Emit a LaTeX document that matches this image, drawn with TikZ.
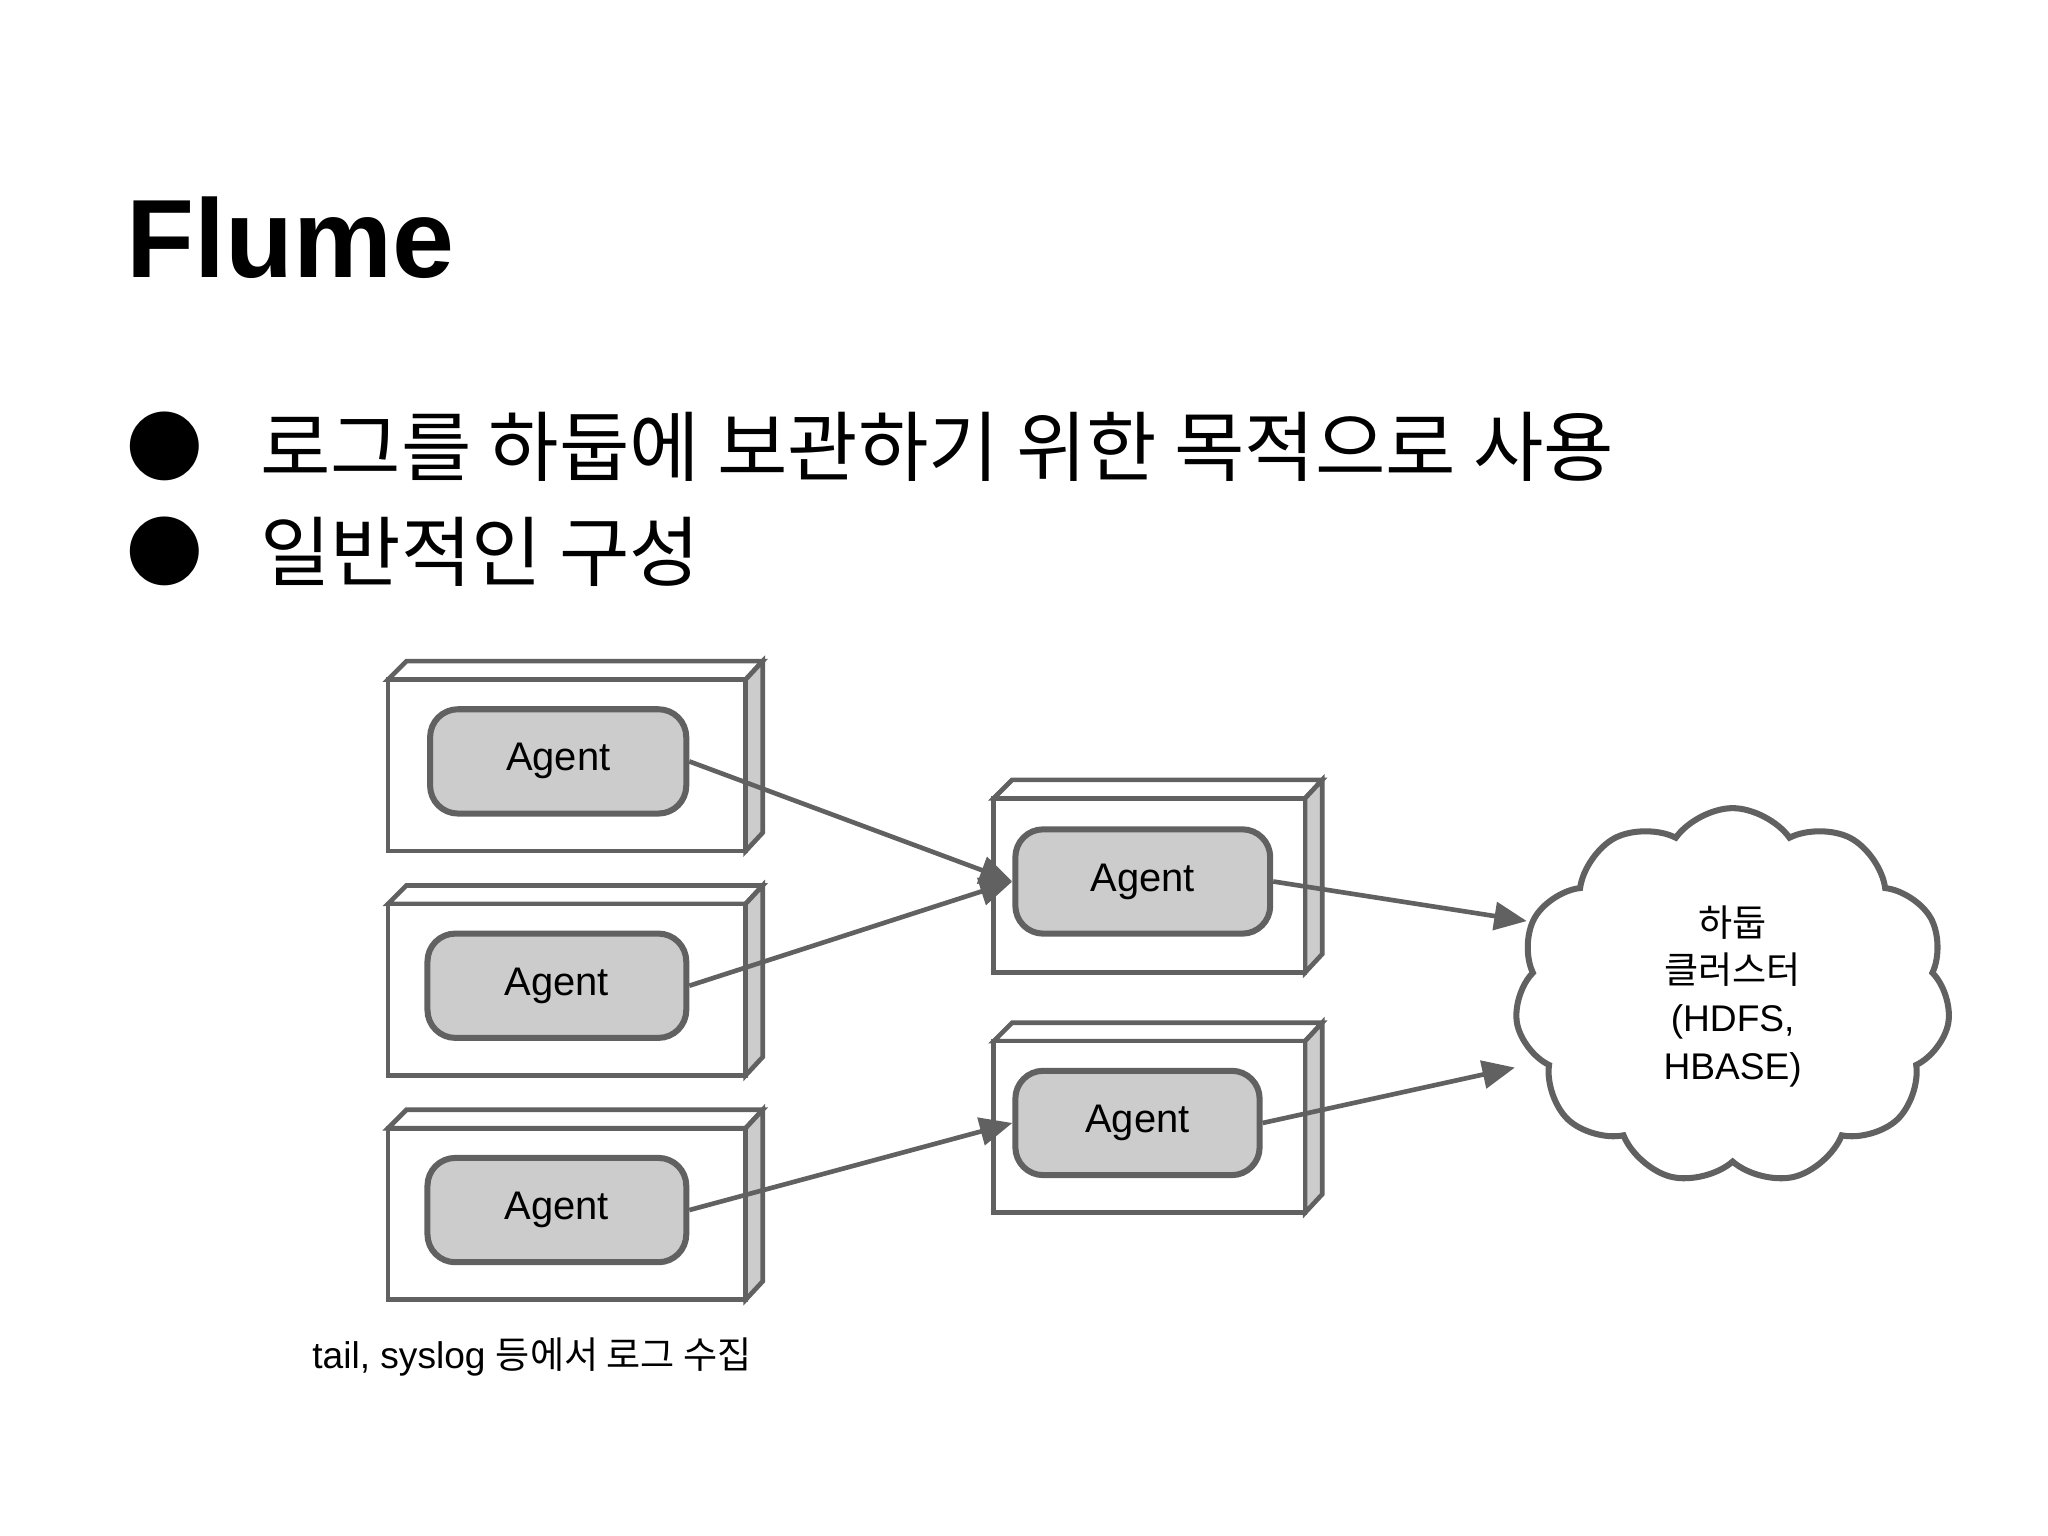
\documentclass[tikz,border=0pt]{standalone}
\usepackage{fontspec}
\setmainfont{Liberation Sans}
\newfontfamily\kr{Noto Sans CJK KR}
\usetikzlibrary{shapes.symbols,arrows.meta}
\definecolor{ln}{HTML}{616161}
\definecolor{fl}{HTML}{CCCCCC}
\tikzset{
 agent/.style={draw=ln,line width=1.3pt,fill=fl,rounded corners=6pt,minimum width=1.94cm,minimum height=0.79cm,font=\fontsize{8.6pt}{10pt}\selectfont},
 conn/.style={draw=ln,line width=1pt,-{Triangle[length=7pt,width=6pt]}},
 face/.style={draw=ln,line width=1pt,fill=white},
 side/.style={draw=ln,line width=1pt,fill=fl}
}
\newcommand\mycube[4]{%
 \draw[face] (#1,#2) -- (#1+14,#2-14) -- (#3+13,#2-14) -- (#3,#2) -- cycle;
 \draw[side] (#3,#2) -- (#3+13,#2-14) -- (#3+13,#4-14) -- (#3,#4) -- cycle;
 \draw[face] (#1,#2) rectangle (#3,#4);}
\begin{document}
\begin{tikzpicture}[x=0.01cm,y=-0.01cm]
\useasboundingbox (0,0) rectangle (1552,1164);
\node[anchor=base west,inner sep=0,font=\bfseries\fontsize{24pt}{28pt}\selectfont] (title) at (95,210) {Flume};
\node[anchor=base west,inner sep=0,font=\kr\fontsize{16.5pt}{20pt}\selectfont] (b1) at (95,360) {●\hspace{0.75em}로그를 하둡에 보관하기 위한 목적으로 사용};
\node[anchor=base west,inner sep=0,font=\kr\fontsize{16.5pt}{20pt}\selectfont] (b2) at (95,440) {●\hspace{0.75em}일반적인 구성};
\mycube{294}{515}{565}{645}
\mycube{294}{685}{565}{815}
\mycube{294}{855}{565}{985}
\mycube{753}{605}{989}{737}
\mycube{753}{789}{989}{919}
\node[agent,minimum width=1.94cm] (a1) at (423,577) {Agent};
\node[agent,minimum width=1.96cm] (a2) at (422,747) {Agent};
\node[agent,minimum width=1.96cm] (a3) at (422,917) {Agent};
\node[agent,minimum width=1.93cm] (m1) at (866,668) {Agent};
\node[agent,minimum width=1.85cm] (m2) at (862,851) {Agent};
\node[cloud,cloud puffs=11,cloud puff arc=110,aspect=1.1,draw=ln,line width=1.3pt,minimum width=3.3cm,minimum height=2.85cm,align=center,font=\fontsize{8pt}{10.3pt}\selectfont] (c) at (1313,755) {{\kr 하둡}\\{\kr 클러스터}\\(HDFS,\\HBASE)};
\coordinate (c1) at (1157,698);
\coordinate (c2) at (1148,809);
\draw[conn] (a1.east) -- (m1.west);
\draw[conn] (a2.east) -- (m1.west);
\draw[conn] (a3.east) -- (m2.west);
\draw[conn] (m1.east) -- (c1);
\draw[conn] (m2.east) -- (c2);
\node[anchor=base west,inner sep=0,font=\fontsize{8pt}{10pt}\selectfont] (cap) at (236,1037) {tail, syslog {\kr 등에서 로그 수집}};
\end{tikzpicture}
\end{document}
